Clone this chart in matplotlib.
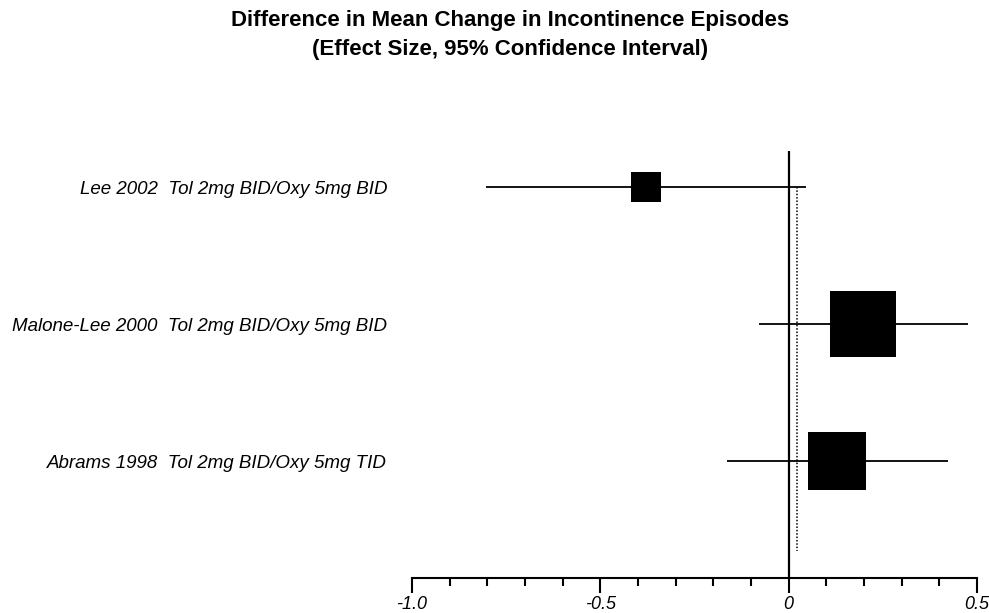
import matplotlib
matplotlib.use("Agg")
import matplotlib.pyplot as plt
from matplotlib.ticker import MultipleLocator

plt.rcParams["font.family"] = ["Liberation Sans", "DejaVu Sans"]

# study rows, top to bottom
studies = [
    "Lee 2002  Tol 2mg BID/Oxy 5mg BID",
    "Malone-Lee 2000  Tol 2mg BID/Oxy 5mg BID",
    "Abrams 1998  Tol 2mg BID/Oxy 5mg TID",
]
effect = [-0.379, 0.198, 0.129]
ci_low = [-0.803, -0.080, -0.165]
ci_high = [0.045, 0.476, 0.423]
weight = [0.46, 1.0, 0.88]   # relative box size
pooled = 0.021

tick_labels = ["-1.0", "-0.5", "0", "0.5"]

fig = plt.figure(figsize=(9.89, 6.13), dpi=100)
ax = fig.add_axes([412 / 989, 1 - 578 / 613, 565 / 989, (578 - 151) / 613])

ypos = [3, 2, 1]
for y, e, lo, hi, w in zip(ypos, effect, ci_low, ci_high, weight):
    ax.plot([lo, hi], [y, y], color="black", lw=1.3, solid_capstyle="butt", zorder=2)
    ax.plot(e, y, marker="s", color="black", ms=48 * w, mew=0, zorder=3)

ax.plot([0, 0], [0.146, 3.263], color="black", lw=1.6, zorder=1)
ax.plot([pooled, pooled], [3, 0.34], color="black", lw=1.1, ls=(0, (1, 1.2)), zorder=1)

ax.set_xlim(-1.0, 0.5)
ax.set_ylim(0.146, 3.263)

for s in ["top", "right", "left"]:
    ax.spines[s].set_visible(False)
ax.spines["bottom"].set_linewidth(1.5)
ax.spines["bottom"].set_bounds(-1.0, 0.5)

ax.set_xticks([-1.0, -0.5, 0, 0.5])
ax.set_xticklabels(tick_labels, fontsize=13, style="italic")
ax.xaxis.set_minor_locator(MultipleLocator(0.1))
ax.tick_params(axis="x", which="major", direction="out", length=11, width=1.5, pad=2)
ax.tick_params(axis="x", which="minor", direction="out", length=6, width=1.5)

ax.set_yticks(ypos)
ax.set_yticklabels(studies, fontsize=13.5, style="italic")
ax.tick_params(axis="y", length=0, pad=18)

fig.text(510 / 989, 1 - 10 / 613,
         "Difference in Mean Change in Incontinence Episodes\n(Effect Size, 95% Confidence Interval)",
         ha="center", va="top", fontsize=16, fontweight="bold", linespacing=1.5)

fig.savefig("out.png", dpi=100)
